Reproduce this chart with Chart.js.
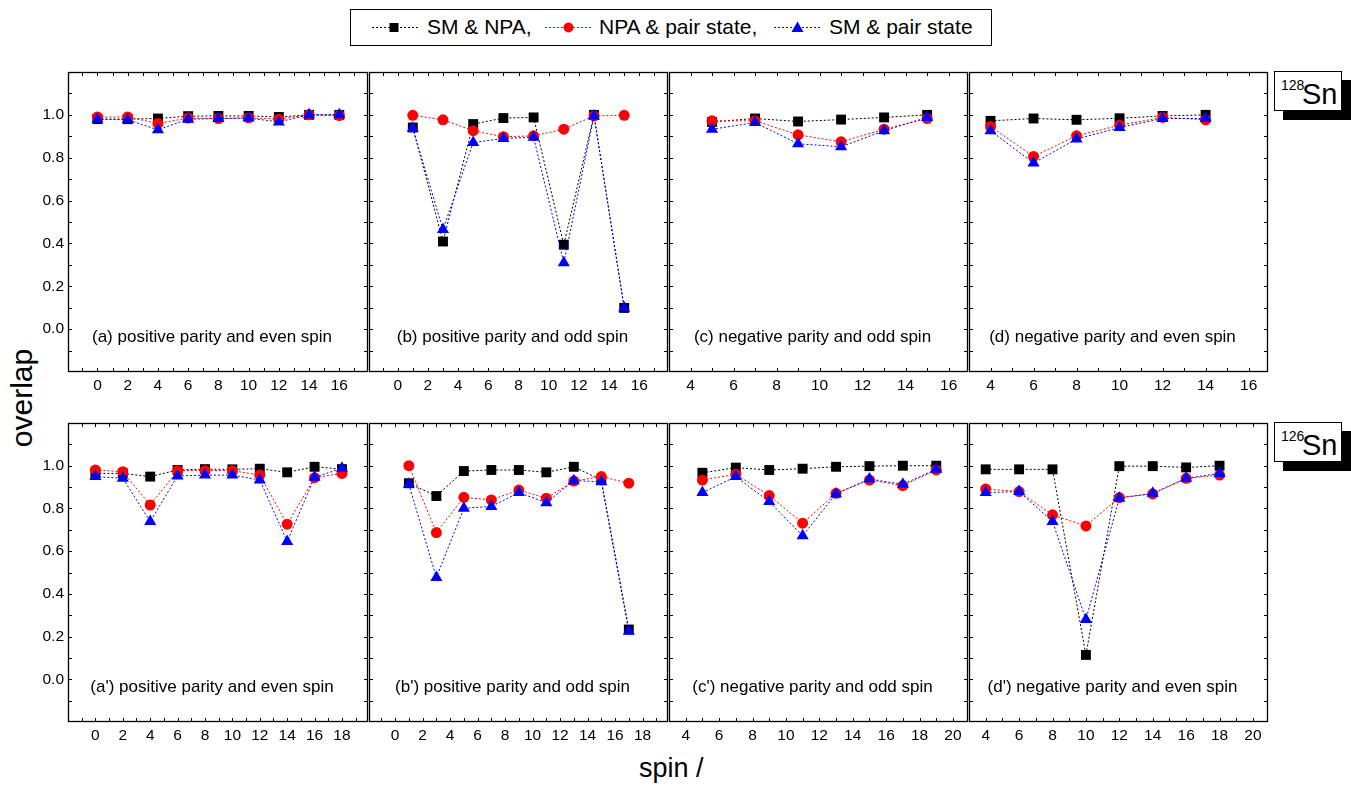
<!DOCTYPE html>
<html><head><meta charset="utf-8">
<script src="https://cdn.jsdelivr.net/npm/chart.js@4.4.1/dist/chart.umd.min.js"></script>
<style>
html,body{margin:0;padding:0;background:#fff;}
body{width:1351px;height:786px;position:relative;overflow:hidden;font-family:"Liberation Sans",Arial,sans-serif;color:#000;}
canvas{position:absolute;}
.abs{position:absolute;white-space:nowrap;}
</style></head><body>

<!-- legend -->
<div class="abs" style="left:350px;top:9px;width:640px;height:35px;border:1px solid #000;"></div>
<svg class="abs" style="left:0;top:0" width="1351" height="60">
  <line x1="372" y1="27.5" x2="420" y2="27.5" stroke="#000" stroke-width="1" stroke-dasharray="2,2"/>
  <rect x="389.5" y="23" width="9" height="9" fill="#000"/>
  <line x1="545" y1="27.5" x2="592" y2="27.5" stroke="#f00" stroke-width="1" stroke-dasharray="2,2"/>
  <circle cx="568.5" cy="27.5" r="5" fill="#f00"/>
  <line x1="774" y1="27.5" x2="821" y2="27.5" stroke="#00f" stroke-width="1" stroke-dasharray="2,2"/>
  <polygon points="797.5,21.5 803.5,32 791.5,32" fill="#00f"/>
</svg>
<div class="abs" style="left:427px;top:15px;font-size:21px;line-height:24px;">SM &amp; NPA,</div>
<div class="abs" style="left:599px;top:15px;font-size:21px;line-height:24px;">NPA &amp; pair state,</div>
<div class="abs" style="left:829px;top:15px;font-size:21px;line-height:24px;">SM &amp; pair state</div>

<!-- nucleus labels -->
<div class="abs" style="left:1274px;top:71px;width:66px;height:38px;border:1px solid #000;background:#fff;box-shadow:9px 9px 0 #000;"></div>
<div class="abs" style="left:1281px;top:78px;font-size:14px;line-height:14px;">128</div>
<div class="abs" style="left:1302px;top:80px;font-size:29px;line-height:29px;">Sn</div>
<div class="abs" style="left:1274px;top:422px;width:66px;height:38px;border:1px solid #000;background:#fff;box-shadow:9px 9px 0 #000;"></div>
<div class="abs" style="left:1281px;top:429px;font-size:14px;line-height:14px;">126</div>
<div class="abs" style="left:1302px;top:431px;font-size:29px;line-height:29px;">Sn</div>

<!-- axis titles -->
<div class="abs" style="left:-38px;top:381px;width:120px;height:34px;line-height:34px;text-align:center;font-size:30px;transform:rotate(-90deg);">overlap</div>
<div class="abs" style="left:639px;top:753px;font-size:27px;line-height:30px;">spin /</div>

<script>
// ---------------- DATA ----------------
// 128Sn
const spinsA = [0, 2, 4, 6, 8, 10, 12, 14, 16];
const smNpaA = [0.98, 0.98, 0.983, 0.994, 0.995, 0.995, 0.99, 1.0, 1.0];
const npaPairA = [0.99, 0.99, 0.96, 0.985, 0.983, 0.986, 0.98, 1.0, 0.997];
const smPairA = [0.98, 0.977, 0.93, 0.98, 0.983, 0.985, 0.967, 1.0, 1.0];

const spinsB = [1, 3, 5, 7, 9, 11, 13, 15];
const smNpaB = [0.941, 0.409, 0.957, 0.985, 0.988, 0.394, 1.0, 0.099];
const npaPairB = [0.998, 0.977, 0.926, 0.898, 0.902, 0.933, 0.995, 0.998];
const smPairB = [0.938, 0.465, 0.871, 0.89, 0.895, 0.31, 0.995, 0.099];

const spinsC = [5, 7, 9, 11, 13, 15];
const smNpaC = [0.967, 0.983, 0.969, 0.978, 0.988, 1.0];
const npaPairC = [0.972, 0.972, 0.907, 0.874, 0.933, 0.983];
const smPairC = [0.933, 0.964, 0.865, 0.851, 0.926, 0.988];

const spinsD = [4, 6, 8, 10, 12, 14];
const smNpaD = [0.972, 0.983, 0.977, 0.984, 0.995, 1.0];
const npaPairD = [0.946, 0.806, 0.902, 0.952, 0.988, 0.977];
const smPairD = [0.926, 0.775, 0.887, 0.941, 0.983, 0.983];

// 126Sn
const spinsA2 = [0, 2, 4, 6, 8, 10, 12, 14, 16, 18];
const smNpaA2 = [0.964, 0.964, 0.949, 0.98, 0.984, 0.983, 0.986, 0.969, 0.995, 0.984];
const npaPairA2 = [0.98, 0.972, 0.816, 0.977, 0.977, 0.977, 0.956, 0.726, 0.944, 0.964];
const smPairA2 = [0.949, 0.941, 0.739, 0.952, 0.956, 0.956, 0.933, 0.645, 0.946, 0.988];

const spinsB2 = [1, 3, 5, 7, 9, 11, 13, 15, 17];
const smNpaB2 = [0.918, 0.858, 0.975, 0.98, 0.98, 0.969, 0.995, 0.933, 0.233];
const npaPairB2 = [1.0, 0.687, 0.852, 0.84, 0.886, 0.848, 0.928, 0.949, 0.918];
const smPairB2 = [0.913, 0.477, 0.801, 0.809, 0.874, 0.827, 0.93, 0.925, 0.225];

const spinsC2 = [5, 7, 9, 11, 13, 15, 17, 19];
const smNpaC2 = [0.967, 0.991, 0.98, 0.986, 0.995, 0.998, 1.0, 1.0];
const npaPairC2 = [0.933, 0.96, 0.86, 0.731, 0.871, 0.933, 0.907, 0.98];
const smPairC2 = [0.874, 0.949, 0.832, 0.672, 0.868, 0.938, 0.913, 0.983];

const spinsD2 = [4, 6, 8, 10, 12, 14, 16, 18];
const smNpaD2 = [0.983, 0.983, 0.983, 0.114, 0.998, 0.998, 0.992, 1.0];
const npaPairD2 = [0.891, 0.879, 0.77, 0.718, 0.851, 0.868, 0.941, 0.956];
const smPairD2 = [0.874, 0.879, 0.739, 0.28, 0.848, 0.871, 0.941, 0.964];

const seriesNames = ['SM & NPA', 'NPA & pair state', 'SM & pair state'];
const panelLabels = [
  '(a) positive parity and even spin', '(b) positive parity and odd spin',
  '(c) negative parity and odd spin', '(d) negative parity and even spin',
  "(a') positive parity and even spin", "(b') positive parity and odd spin",
  "(c') negative parity and odd spin", "(d') negative parity and even spin"
];
// ---------------- LAYOUT ----------------
const FONT = '"Liberation Sans", Arial, sans-serif';
const panels = [
  {x:68,  y:72,  w:301, h:301, xmin:-1.95, xmax:17.9,  lmin:0, lmax:16, spins:spinsA,  d:[smNpaA, npaPairA, smPairA]},
  {x:369, y:72,  w:300, h:301, xmin:-1.9,  xmax:17.9,  lmin:0, lmax:16, spins:spinsB,  d:[smNpaB, npaPairB, smPairB]},
  {x:669, y:72,  w:300, h:301, xmin:3,     xmax:16.9,  lmin:4, lmax:16, spins:spinsC,  d:[smNpaC, npaPairC, smPairC]},
  {x:969, y:72,  w:300, h:301, xmin:3,     xmax:16.9,  lmin:4, lmax:16, spins:spinsD,  d:[smNpaD, npaPairD, smPairD]},
  {x:68,  y:423, w:301, h:300, xmin:-2,    xmax:19.9,  lmin:0, lmax:18, spins:spinsA2, d:[smNpaA2, npaPairA2, smPairA2]},
  {x:369, y:423, w:300, h:300, xmin:-1.9,  xmax:19.85, lmin:0, lmax:18, spins:spinsB2, d:[smNpaB2, npaPairB2, smPairB2]},
  {x:669, y:423, w:300, h:300, xmin:3,     xmax:20.9,  lmin:4, lmax:20, spins:spinsC2, d:[smNpaC2, npaPairC2, smPairC2]},
  {x:969, y:423, w:300, h:300, xmin:3,     xmax:20.9,  lmin:4, lmax:20, spins:spinsD2, d:[smNpaD2, npaPairD2, smPairD2]}
];
const colors = ['#000000', '#ff0000', '#0000ff'];
const styles = ['rect', 'circle', 'triangle'];
const radii = [7, 5.5, 7];
const orders = [2, 1, 0];
const PADL = 60, PADR = 6, PADT = 6, PADB = 36, TL = 4;

const framePlugin = {
  id: 'frame',
  afterDraw(chart) {
    const {ctx, chartArea: a, scales: {x, y}} = chart;
    const label = chart.options.plugins.frame.label;
    ctx.save();
    ctx.strokeStyle = '#000';
    ctx.lineWidth = 1;
    ctx.beginPath();
    x.ticks.forEach(t => {
      if (Math.abs(t.value - Math.round(t.value)) > 1e-6) return;
      const px = Math.round(x.getPixelForValue(t.value)) + 0.5;
      if (px <= a.left + 1 || px >= a.right - 1) return;
      ctx.moveTo(px, a.bottom); ctx.lineTo(px, a.bottom - TL);
      ctx.moveTo(px, a.top); ctx.lineTo(px, a.top + TL);
    });
    y.ticks.forEach(t => {
      const py = Math.round(y.getPixelForValue(t.value)) + 0.5;
      if (py <= a.top + 1 || py >= a.bottom - 1) return;
      ctx.moveTo(a.left, py); ctx.lineTo(a.left + TL, py);
      ctx.moveTo(a.right, py); ctx.lineTo(a.right - TL, py);
    });
    ctx.stroke();
    ctx.lineWidth = 1.3;
    ctx.strokeRect(a.left + 0.5, a.top + 0.5, a.width - 1, a.height - 1);
    ctx.fillStyle = '#000';
    ctx.font = '17px ' + FONT;
    ctx.textAlign = 'center';
    ctx.textBaseline = 'middle';
    ctx.fillText(label, (a.left + a.right) / 2 - 6, y.getPixelForValue(-0.037));
    ctx.restore();
  }
};

function zeroPad(s) { s.paddingTop = 0; s.paddingBottom = 0; s.paddingLeft = 0; s.paddingRight = 0; }

panels.forEach((p, i) => {
  const cv = document.createElement('canvas');
  const W = p.w + PADL + PADR, H = p.h + PADT + PADB;
  cv.width = W; cv.height = H;
  cv.style.left = (p.x - PADL) + 'px';
  cv.style.top = (p.y - PADT) + 'px';
  cv.style.width = W + 'px'; cv.style.height = H + 'px';
  document.body.appendChild(cv);
  const showY = (i % 4 === 0);
  const datasets = p.d.map((vals, k) => ({
    label: seriesNames[k],
    data: p.spins.map((s, j) => ({x: s, y: vals[j]})),
    borderColor: colors[k],
    backgroundColor: colors[k],
    borderWidth: 1,
    borderDash: [2, 2],
    pointStyle: styles[k],
    pointRadius: radii[k],
    pointBorderWidth: 0,
    pointBackgroundColor: colors[k],
    tension: 0,
    order: orders[k],
    clip: 8
  }));
  const chart = new Chart(cv, {
    type: 'line',
    data: {datasets},
    plugins: [framePlugin],
    options: {
      responsive: false, animation: false, maintainAspectRatio: false,
      layout: {padding: {left: 0, right: PADR, top: PADT, bottom: 0}},
      plugins: {legend: {display: false}, tooltip: {enabled: false}, frame: {label: panelLabels[i]}},
      scales: {
        x: {
          type: 'linear', min: p.xmin, max: p.xmax,
          afterFit(s) { s.height = PADB; zeroPad(s); },
          grid: {display: false, drawTicks: false}, border: {display: false},
          ticks: {
            stepSize: 1, autoSkip: false, includeBounds: false, maxRotation: 0, minRotation: 0, padding: 4,
            color: '#000', font: {size: 15.5, family: FONT},
            callback(v) {
              const r = Math.round(v);
              if (Math.abs(v - r) > 1e-6) return '';
              if (r < p.lmin || r > p.lmax || r % 2 !== 0) return '';
              return String(r);
            }
          }
        },
        y: {
          type: 'linear', min: -0.2, max: 1.2,
          afterFit(s) { s.width = PADL; zeroPad(s); },
          grid: {display: false, drawTicks: false}, border: {display: false},
          ticks: {
            stepSize: 0.1, autoSkip: false, padding: 4,
            color: '#000', font: {size: 15.5, family: FONT},
            callback(v) {
              if (!showY) return '';
              const r = Math.round(v * 10);
              if (r < 0 || r > 10 || r % 2 !== 0) return '';
              return (r / 10).toFixed(1);
            }
          }
        }
      }
    }
  });
  // keep the plot box where intended if the library shifted it
  const ca = chart.chartArea;
  const dx = ca.left - PADL, dy = ca.top - PADT;
  if (dx || dy) {
    cv.style.left = (p.x - PADL - dx) + 'px';
    cv.style.top = (p.y - PADT - dy) + 'px';
  }
});
</script>
</body></html>
